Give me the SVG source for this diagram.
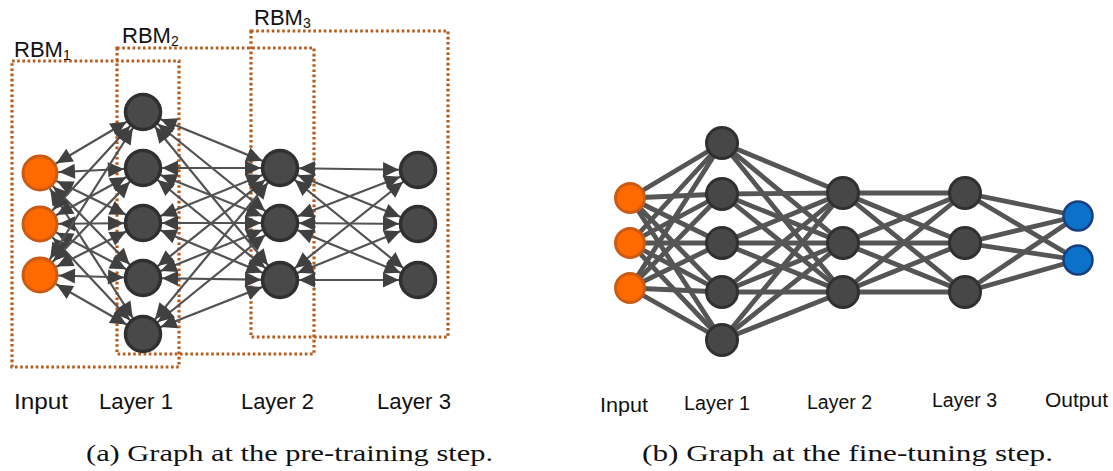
<svg xmlns="http://www.w3.org/2000/svg" width="1113" height="471" viewBox="0 0 1113 471">
<style>
.bg{fill:#ffffff}
.rbm{fill:none;stroke:#b85a1c;stroke-width:3.2;stroke-dasharray:2.6 2.6}
.lbl{font-family:"Liberation Sans",Arial,sans-serif;fill:#111}
.cap{font-family:"Liberation Serif","Times New Roman",serif;font-size:23px;fill:#111}
.ln{stroke:#525252;stroke-width:2.2;fill:none;marker-start:url(#ah);marker-end:url(#ah)}
.rn{stroke:#555555;stroke-width:4.8;fill:none;stroke-linecap:round}
.dk{fill:#494949;stroke:#303030;stroke-width:3.5}
.dk2{fill:#474747;stroke:#303030;stroke-width:3}
.or{fill:#ff6a00;stroke:#cc5a12;stroke-width:3}
.bl{fill:#0a72c8;stroke:#1a3f80;stroke-width:2.5}
</style>
<defs>
<marker id="ah" viewBox="0 -8 16 16" refX="35" refY="0" markerWidth="16" markerHeight="16" markerUnits="userSpaceOnUse" orient="auto-start-reverse" overflow="visible">
<path d="M0,-7.5 L16,0 L0,7.5 z" fill="#404040"/>
</marker>
</defs>
<rect class="bg" x="0" y="0" width="1113" height="471"/>

<g id="rbm-boxes">
<rect class="rbm" x="12" y="61" width="167" height="306"/>
<rect class="rbm" x="117" y="48" width="197" height="306"/>
<rect class="rbm" x="251" y="31" width="197" height="306"/>
<text class="lbl" x="14" y="57" font-size="22">RBM<tspan font-size="14" dy="3">1</tspan></text>
<text class="lbl" x="122" y="43" font-size="22">RBM<tspan font-size="14" dy="3">2</tspan></text>
<text class="lbl" x="254" y="25" font-size="22">RBM<tspan font-size="14" dy="3">3</tspan></text>
</g>

<g id="connectors-a">
<line class="ln" x1="40" y1="173" x2="143" y2="112"/>
<line class="ln" x1="40" y1="173" x2="143" y2="168"/>
<line class="ln" x1="40" y1="173" x2="143" y2="223"/>
<line class="ln" x1="40" y1="173" x2="143" y2="278"/>
<line class="ln" x1="40" y1="173" x2="143" y2="334"/>
<line class="ln" x1="40" y1="224" x2="143" y2="112"/>
<line class="ln" x1="40" y1="224" x2="143" y2="168"/>
<line class="ln" x1="40" y1="224" x2="143" y2="223"/>
<line class="ln" x1="40" y1="224" x2="143" y2="278"/>
<line class="ln" x1="40" y1="224" x2="143" y2="334"/>
<line class="ln" x1="40" y1="275" x2="143" y2="112"/>
<line class="ln" x1="40" y1="275" x2="143" y2="168"/>
<line class="ln" x1="40" y1="275" x2="143" y2="223"/>
<line class="ln" x1="40" y1="275" x2="143" y2="278"/>
<line class="ln" x1="40" y1="275" x2="143" y2="334"/>

<line class="ln" x1="143" y1="112" x2="280" y2="168"/>
<line class="ln" x1="143" y1="112" x2="280" y2="223"/>
<line class="ln" x1="143" y1="112" x2="280" y2="280"/>
<line class="ln" x1="143" y1="168" x2="280" y2="168"/>
<line class="ln" x1="143" y1="168" x2="280" y2="223"/>
<line class="ln" x1="143" y1="168" x2="280" y2="280"/>
<line class="ln" x1="143" y1="223" x2="280" y2="168"/>
<line class="ln" x1="143" y1="223" x2="280" y2="223"/>
<line class="ln" x1="143" y1="223" x2="280" y2="280"/>
<line class="ln" x1="143" y1="278" x2="280" y2="168"/>
<line class="ln" x1="143" y1="278" x2="280" y2="223"/>
<line class="ln" x1="143" y1="278" x2="280" y2="280"/>
<line class="ln" x1="143" y1="334" x2="280" y2="168"/>
<line class="ln" x1="143" y1="334" x2="280" y2="223"/>
<line class="ln" x1="143" y1="334" x2="280" y2="280"/>

<line class="ln" x1="280" y1="168" x2="418" y2="170"/>
<line class="ln" x1="280" y1="168" x2="418" y2="224"/>
<line class="ln" x1="280" y1="168" x2="418" y2="280"/>
<line class="ln" x1="280" y1="223" x2="418" y2="170"/>
<line class="ln" x1="280" y1="223" x2="418" y2="224"/>
<line class="ln" x1="280" y1="223" x2="418" y2="280"/>
<line class="ln" x1="280" y1="280" x2="418" y2="170"/>
<line class="ln" x1="280" y1="280" x2="418" y2="224"/>
<line class="ln" x1="280" y1="280" x2="418" y2="280"/>
</g>

<g id="a-input">
<circle class="or" cx="40" cy="173" r="17"/>
<circle class="or" cx="40" cy="224" r="17"/>
<circle class="or" cx="40" cy="275" r="17"/>
</g>
<g id="a-layer1">
<circle class="dk" cx="143" cy="112" r="17.5"/>
<circle class="dk" cx="143" cy="168" r="17.5"/>
<circle class="dk" cx="143" cy="223" r="17.5"/>
<circle class="dk" cx="143" cy="278" r="17.5"/>
<circle class="dk" cx="143" cy="334" r="17.5"/>
</g>
<g id="a-layer2">
<circle class="dk" cx="280" cy="168" r="17.5"/>
<circle class="dk" cx="280" cy="223" r="17.5"/>
<circle class="dk" cx="280" cy="280" r="17.5"/>
</g>
<g id="a-layer3">
<circle class="dk" cx="418" cy="170" r="17.5"/>
<circle class="dk" cx="418" cy="224" r="17.5"/>
<circle class="dk" cx="418" cy="280" r="17.5"/>
</g>

<g id="a-labels">
<text class="lbl" x="14" y="409" font-size="22" textLength="54" lengthAdjust="spacingAndGlyphs">Input</text>
<text class="lbl" x="99" y="409" font-size="22" textLength="74" lengthAdjust="spacingAndGlyphs">Layer 1</text>
<text class="lbl" x="241" y="409" font-size="22" textLength="73" lengthAdjust="spacingAndGlyphs">Layer 2</text>
<text class="lbl" x="377" y="409" font-size="22" textLength="74" lengthAdjust="spacingAndGlyphs">Layer 3</text>
</g>

<g id="connectors-b">
<line class="rn" x1="630" y1="198" x2="722" y2="143"/>
<line class="rn" x1="630" y1="198" x2="722" y2="194"/>
<line class="rn" x1="630" y1="198" x2="722" y2="243"/>
<line class="rn" x1="630" y1="198" x2="722" y2="292"/>
<line class="rn" x1="630" y1="198" x2="722" y2="340"/>
<line class="rn" x1="630" y1="243" x2="722" y2="143"/>
<line class="rn" x1="630" y1="243" x2="722" y2="194"/>
<line class="rn" x1="630" y1="243" x2="722" y2="243"/>
<line class="rn" x1="630" y1="243" x2="722" y2="292"/>
<line class="rn" x1="630" y1="243" x2="722" y2="340"/>
<line class="rn" x1="630" y1="288" x2="722" y2="143"/>
<line class="rn" x1="630" y1="288" x2="722" y2="194"/>
<line class="rn" x1="630" y1="288" x2="722" y2="243"/>
<line class="rn" x1="630" y1="288" x2="722" y2="292"/>
<line class="rn" x1="630" y1="288" x2="722" y2="340"/>

<line class="rn" x1="722" y1="143" x2="843" y2="193"/>
<line class="rn" x1="722" y1="143" x2="843" y2="243"/>
<line class="rn" x1="722" y1="143" x2="843" y2="292"/>
<line class="rn" x1="722" y1="194" x2="843" y2="193"/>
<line class="rn" x1="722" y1="194" x2="843" y2="243"/>
<line class="rn" x1="722" y1="194" x2="843" y2="292"/>
<line class="rn" x1="722" y1="243" x2="843" y2="193"/>
<line class="rn" x1="722" y1="243" x2="843" y2="243"/>
<line class="rn" x1="722" y1="243" x2="843" y2="292"/>
<line class="rn" x1="722" y1="292" x2="843" y2="193"/>
<line class="rn" x1="722" y1="292" x2="843" y2="243"/>
<line class="rn" x1="722" y1="292" x2="843" y2="292"/>
<line class="rn" x1="722" y1="340" x2="843" y2="193"/>
<line class="rn" x1="722" y1="340" x2="843" y2="243"/>
<line class="rn" x1="722" y1="340" x2="843" y2="292"/>

<line class="rn" x1="843" y1="193" x2="965" y2="193"/>
<line class="rn" x1="843" y1="193" x2="965" y2="243"/>
<line class="rn" x1="843" y1="193" x2="965" y2="292"/>
<line class="rn" x1="843" y1="243" x2="965" y2="193"/>
<line class="rn" x1="843" y1="243" x2="965" y2="243"/>
<line class="rn" x1="843" y1="243" x2="965" y2="292"/>
<line class="rn" x1="843" y1="292" x2="965" y2="193"/>
<line class="rn" x1="843" y1="292" x2="965" y2="243"/>
<line class="rn" x1="843" y1="292" x2="965" y2="292"/>

<line class="rn" x1="965" y1="193" x2="1078" y2="216"/>
<line class="rn" x1="965" y1="193" x2="1078" y2="260"/>
<line class="rn" x1="965" y1="243" x2="1078" y2="216"/>
<line class="rn" x1="965" y1="243" x2="1078" y2="260"/>
<line class="rn" x1="965" y1="292" x2="1078" y2="216"/>
<line class="rn" x1="965" y1="292" x2="1078" y2="260"/>
</g>

<g id="b-input">
<circle class="or" cx="630" cy="198" r="14.5"/>
<circle class="or" cx="630" cy="243" r="14.5"/>
<circle class="or" cx="630" cy="288" r="14.5"/>
</g>
<g id="b-layer1">
<circle class="dk2" cx="722" cy="143" r="15.5"/>
<circle class="dk2" cx="722" cy="194" r="15.5"/>
<circle class="dk2" cx="722" cy="243" r="15.5"/>
<circle class="dk2" cx="722" cy="292" r="15.5"/>
<circle class="dk2" cx="722" cy="340" r="15.5"/>
</g>
<g id="b-layer2">
<circle class="dk2" cx="843" cy="193" r="15.5"/>
<circle class="dk2" cx="843" cy="243" r="15.5"/>
<circle class="dk2" cx="843" cy="292" r="15.5"/>
</g>
<g id="b-layer3">
<circle class="dk2" cx="965" cy="193" r="15.5"/>
<circle class="dk2" cx="965" cy="243" r="15.5"/>
<circle class="dk2" cx="965" cy="292" r="15.5"/>
</g>
<g id="b-output">
<circle class="bl" cx="1078" cy="216" r="14.5"/>
<circle class="bl" cx="1078" cy="260" r="14.5"/>
</g>

<g id="b-labels">
<text class="lbl" x="600" y="412" font-size="20" textLength="48" lengthAdjust="spacingAndGlyphs">Input</text>
<text class="lbl" x="684" y="410" font-size="20" textLength="66" lengthAdjust="spacingAndGlyphs">Layer 1</text>
<text class="lbl" x="807" y="409" font-size="20" textLength="65" lengthAdjust="spacingAndGlyphs">Layer 2</text>
<text class="lbl" x="932" y="407" font-size="20" textLength="65" lengthAdjust="spacingAndGlyphs">Layer 3</text>
<text class="lbl" x="1045" y="407" font-size="20" textLength="63" lengthAdjust="spacingAndGlyphs">Output</text>
</g>

<g id="captions">
<text class="cap" x="86" y="461" textLength="407" lengthAdjust="spacingAndGlyphs">(a) Graph at the pre-training step.</text>
<text class="cap" x="642" y="461" textLength="411" lengthAdjust="spacingAndGlyphs">(b) Graph at the fine-tuning step.</text>
</g>
</svg>
